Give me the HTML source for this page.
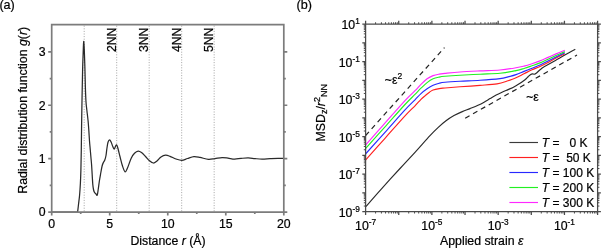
<!DOCTYPE html>
<html><head><meta charset="utf-8"><style>
html,body{margin:0;padding:0;background:#fff;}
svg{display:block;will-change:transform;}
text{font-family:"Liberation Sans", sans-serif;fill:#000;stroke:#000;stroke-width:0.22px;}
</style></head><body>
<svg width="602" height="248" viewBox="0 0 602 248">
<line x1="84.19" y1="25.70" x2="84.19" y2="212.10" stroke="#9a9a9a" stroke-width="0.9" stroke-dasharray="1,1.6"/>
<line x1="116.69" y1="25.70" x2="116.69" y2="212.10" stroke="#9a9a9a" stroke-width="0.9" stroke-dasharray="1,1.6"/>
<line x1="149.18" y1="25.70" x2="149.18" y2="212.10" stroke="#9a9a9a" stroke-width="0.9" stroke-dasharray="1,1.6"/>
<line x1="181.68" y1="25.70" x2="181.68" y2="212.10" stroke="#9a9a9a" stroke-width="0.9" stroke-dasharray="1,1.6"/>
<line x1="214.17" y1="25.70" x2="214.17" y2="212.10" stroke="#9a9a9a" stroke-width="0.9" stroke-dasharray="1,1.6"/>
<text transform="translate(115.69,27.5) rotate(-90)" text-anchor="end" font-size="12.3" fill="#111">2NN</text>
<text transform="translate(148.18,27.5) rotate(-90)" text-anchor="end" font-size="12.3" fill="#111">3NN</text>
<text transform="translate(180.68,27.5) rotate(-90)" text-anchor="end" font-size="12.3" fill="#111">4NN</text>
<text transform="translate(213.17,27.5) rotate(-90)" text-anchor="end" font-size="12.3" fill="#111">5NN</text>
<path d="M51.7,212.1 L77.6,212.1 C77.75,210.83 78.17,207.35 78.50,204.50 C78.83,201.65 79.28,198.58 79.60,195.00 C79.92,191.42 80.18,187.17 80.40,183.00 C80.62,178.83 80.75,175.50 80.90,170.00 C81.05,164.50 81.18,157.50 81.30,150.00 C81.42,142.50 81.47,134.17 81.60,125.00 C81.73,115.83 81.93,104.17 82.10,95.00 C82.27,85.83 82.42,77.17 82.60,70.00 C82.78,62.83 83.02,56.75 83.20,52.00 C83.38,47.25 83.52,41.83 83.70,41.50 C83.88,41.17 84.10,45.58 84.30,50.00 C84.50,54.42 84.72,61.67 84.90,68.00 C85.08,74.33 85.22,82.33 85.40,88.00 C85.58,93.67 85.75,98.25 86.00,102.00 C86.25,105.75 86.55,107.33 86.90,110.50 C87.25,113.67 87.78,117.75 88.10,121.00 C88.42,124.25 88.57,126.67 88.80,130.00 C89.03,133.33 89.27,137.83 89.50,141.00 C89.73,144.17 89.97,146.33 90.20,149.00 C90.43,151.67 90.67,154.33 90.90,157.00 C91.13,159.67 91.38,162.00 91.60,165.00 C91.82,168.00 92.00,171.75 92.20,175.00 C92.40,178.25 92.58,182.08 92.80,184.50 C93.02,186.92 93.23,188.20 93.50,189.50 C93.77,190.80 93.98,191.55 94.40,192.30 C94.82,193.05 95.53,193.52 96.00,194.00 C96.47,194.48 96.83,195.95 97.20,195.20 C97.57,194.45 97.85,191.78 98.20,189.50 C98.55,187.22 98.92,184.00 99.30,181.50 C99.68,179.00 100.03,177.08 100.50,174.50 C100.97,171.92 101.60,168.03 102.10,166.00 C102.60,163.97 103.05,163.30 103.50,162.30 C103.95,161.30 104.38,161.13 104.80,160.00 C105.22,158.87 105.65,157.42 106.00,155.50 C106.35,153.58 106.57,150.72 106.90,148.50 C107.23,146.28 107.55,143.65 108.00,142.20 C108.45,140.75 109.07,139.78 109.60,139.80 C110.13,139.82 110.67,141.18 111.20,142.30 C111.73,143.42 112.30,145.35 112.80,146.50 C113.30,147.65 113.75,149.23 114.20,149.20 C114.65,149.17 115.10,147.03 115.50,146.30 C115.90,145.57 116.25,144.63 116.60,144.80 C116.95,144.97 117.27,146.27 117.60,147.30 C117.93,148.33 118.18,149.38 118.60,151.00 C119.02,152.62 119.45,154.50 120.10,157.00 C120.75,159.50 121.67,163.53 122.50,166.00 C123.33,168.47 124.27,171.47 125.10,171.80 C125.93,172.13 126.48,170.27 127.50,168.00 C128.52,165.73 130.03,160.65 131.20,158.20 C132.37,155.75 133.33,154.48 134.50,153.30 C135.67,152.12 137.03,151.23 138.20,151.10 C139.37,150.97 140.32,151.65 141.50,152.50 C142.68,153.35 143.97,154.82 145.30,156.20 C146.63,157.58 148.17,159.67 149.50,160.80 C150.83,161.93 152.05,162.97 153.30,163.00 C154.55,163.03 155.72,162.00 157.00,161.00 C158.28,160.00 159.57,157.97 161.00,157.00 C162.43,156.03 164.10,155.32 165.60,155.20 C167.10,155.08 168.27,155.67 170.00,156.30 C171.73,156.93 174.03,158.32 176.00,159.00 C177.97,159.68 179.88,160.48 181.80,160.40 C183.72,160.32 185.48,159.13 187.50,158.50 C189.52,157.87 191.82,156.78 193.90,156.60 C195.98,156.42 197.58,156.93 200.00,157.40 C202.42,157.87 205.90,159.20 208.40,159.40 C210.90,159.60 212.72,158.90 215.00,158.60 C217.28,158.30 219.93,157.68 222.10,157.60 C224.27,157.52 225.93,157.85 228.00,158.10 C230.07,158.35 232.33,159.05 234.50,159.10 C236.67,159.15 238.72,158.60 241.00,158.40 C243.28,158.20 245.87,157.87 248.20,157.90 C250.53,157.93 252.70,158.40 255.00,158.60 C257.30,158.80 259.50,159.08 262.00,159.10 C264.50,159.12 267.33,158.82 270.00,158.70 C272.67,158.58 275.70,158.43 278.00,158.40 C280.30,158.37 282.83,158.48 283.80,158.50" fill="none" stroke="#2a2a2a" stroke-width="1.25" stroke-linejoin="round"/>
<path d="M51.7,24.7 V212.1 H283.8 V24.7 Z" fill="none" stroke="#7c7c7c" stroke-width="1.7"/>
<path d="M51.70,212.1v3.5M109.72,212.1v3.5M167.75,212.1v3.5M225.78,212.1v3.5M283.80,212.1v3.5M80.71,212.1v2M138.74,212.1v2M196.76,212.1v2M254.79,212.1v2M51.7,212.10h-3.5M283.8,212.10h3.5M51.7,158.67h-3.5M283.8,158.67h3.5M51.7,105.24h-3.5M283.8,105.24h3.5M51.7,51.81h-3.5M283.8,51.81h3.5M51.7,185.38h-2M283.8,185.38h2M51.7,131.95h-2M283.8,131.95h2M51.7,78.53h-2M283.8,78.53h2" stroke="#7c7c7c" stroke-width="1.7" fill="none"/>
<text x="51.70" y="228" text-anchor="middle" font-size="12.3">0</text>
<text x="109.72" y="228" text-anchor="middle" font-size="12.3">5</text>
<text x="167.75" y="228" text-anchor="middle" font-size="12.3">10</text>
<text x="225.78" y="228" text-anchor="middle" font-size="12.3">15</text>
<text x="283.80" y="228" text-anchor="middle" font-size="12.3">20</text>
<text x="45.5" y="216.40" text-anchor="end" font-size="12.3">0</text>
<text x="45.5" y="162.97" text-anchor="end" font-size="12.3">1</text>
<text x="45.5" y="109.54" text-anchor="end" font-size="12.3">2</text>
<text x="45.5" y="56.11" text-anchor="end" font-size="12.3">3</text>
<text x="168" y="244.6" text-anchor="middle" font-size="12.3">Distance <tspan font-style="italic">r</tspan> (Å)</text>
<text transform="translate(27.3,110.3) rotate(-90)" text-anchor="middle" font-size="12.3">Radial distribution function <tspan font-style="italic">g</tspan>(<tspan font-style="italic">r</tspan>)</text>
<text x="-0.6" y="8.8" font-size="12.6">(a)</text>
<path d="M365.80,206.60 C368.27,203.80 374.90,196.15 380.60,189.80 C386.30,183.45 394.27,174.75 400.00,168.50 C405.73,162.25 410.00,157.78 415.00,152.30 C420.00,146.82 426.17,139.72 430.00,135.60 C433.83,131.48 435.33,130.07 438.00,127.60 C440.67,125.13 443.33,122.80 446.00,120.80 C448.67,118.80 451.28,117.13 454.00,115.60 C456.72,114.07 459.63,112.77 462.30,111.60 C464.97,110.43 467.38,109.65 470.00,108.60 C472.62,107.55 475.65,106.37 478.00,105.30 C480.35,104.23 482.08,103.32 484.10,102.20 C486.12,101.08 488.08,99.80 490.10,98.60 C492.12,97.40 494.22,96.07 496.20,95.00 C498.18,93.93 500.03,93.10 502.00,92.20 C503.97,91.30 506.17,90.40 508.00,89.60 C509.83,88.80 511.33,88.23 513.00,87.40 C514.67,86.57 516.05,85.83 518.00,84.60 C519.95,83.37 522.98,81.35 524.70,80.00 C526.42,78.65 527.30,77.42 528.30,76.50 C529.30,75.58 530.00,74.93 530.70,74.50 C531.40,74.07 531.90,73.95 532.50,73.90 C533.10,73.85 533.68,74.30 534.30,74.20 C534.92,74.10 535.38,73.92 536.20,73.30 C537.02,72.68 538.20,71.38 539.20,70.50 C540.20,69.62 541.23,68.70 542.20,68.00 C543.17,67.30 542.87,67.52 545.00,66.30 C547.13,65.08 551.70,62.58 555.00,60.70 C558.30,58.82 561.42,56.92 564.80,55.00 C568.18,53.08 573.55,50.17 575.30,49.20" fill="none" stroke="#2a2a2a" stroke-width="1.15" stroke-linejoin="round"/>
<path d="M365.50,160.10 C368.75,156.47 378.42,145.67 385.00,138.30 C391.58,130.93 400.00,121.32 405.00,115.90 C410.00,110.48 412.33,108.57 415.00,105.80 C417.67,103.03 419.28,101.00 421.00,99.30 C422.72,97.60 423.88,96.78 425.30,95.60 C426.72,94.42 428.20,93.13 429.50,92.20 C430.80,91.27 431.48,90.60 433.10,90.00 C434.72,89.40 437.22,88.93 439.20,88.60 C441.18,88.27 441.53,88.30 445.00,88.00 C448.47,87.70 454.17,87.23 460.00,86.80 C465.83,86.37 473.83,85.88 480.00,85.40 C486.17,84.92 492.33,84.67 497.00,83.90 C501.67,83.13 504.83,81.82 508.00,80.80 C511.17,79.78 513.33,78.97 516.00,77.80 C518.67,76.63 521.33,75.13 524.00,73.80 C526.67,72.47 529.33,71.03 532.00,69.80 C534.67,68.57 537.33,67.63 540.00,66.40 C542.67,65.17 545.33,63.80 548.00,62.40 C550.67,61.00 553.20,59.43 556.00,58.00 C558.80,56.57 563.33,54.50 564.80,53.80" fill="none" stroke="#ff2020" stroke-width="1.15" stroke-linejoin="round"/>
<path d="M365.50,154.00 C368.75,150.38 378.42,139.65 385.00,132.30 C391.58,124.95 400.00,115.32 405.00,109.90 C410.00,104.48 412.33,102.52 415.00,99.80 C417.67,97.08 418.98,95.43 421.00,93.60 C423.02,91.77 425.08,90.18 427.10,88.80 C429.12,87.42 431.08,86.23 433.10,85.30 C435.12,84.37 437.22,83.72 439.20,83.20 C441.18,82.68 441.53,82.53 445.00,82.20 C448.47,81.87 454.17,81.52 460.00,81.20 C465.83,80.88 473.33,80.73 480.00,80.30 C486.67,79.87 495.33,79.17 500.00,78.60 C504.67,78.03 505.33,77.57 508.00,76.90 C510.67,76.23 513.33,75.52 516.00,74.60 C518.67,73.68 521.33,72.47 524.00,71.40 C526.67,70.33 529.33,69.28 532.00,68.20 C534.67,67.12 537.33,66.10 540.00,64.90 C542.67,63.70 545.33,62.32 548.00,61.00 C550.67,59.68 553.20,58.38 556.00,57.00 C558.80,55.62 563.33,53.42 564.80,52.70" fill="none" stroke="#2828ff" stroke-width="1.15" stroke-linejoin="round"/>
<path d="M365.50,148.60 C368.75,144.98 378.42,134.25 385.00,126.90 C391.58,119.55 400.00,109.92 405.00,104.50 C410.00,99.08 412.33,97.12 415.00,94.40 C417.67,91.68 418.98,90.17 421.00,88.20 C423.02,86.23 425.08,84.17 427.10,82.60 C429.12,81.03 431.08,79.72 433.10,78.80 C435.12,77.88 437.22,77.52 439.20,77.10 C441.18,76.68 441.53,76.62 445.00,76.30 C448.47,75.98 454.17,75.55 460.00,75.20 C465.83,74.85 473.33,74.52 480.00,74.20 C486.67,73.88 494.00,73.90 500.00,73.30 C506.00,72.70 512.00,71.40 516.00,70.60 C520.00,69.80 521.33,69.30 524.00,68.50 C526.67,67.70 529.33,66.73 532.00,65.80 C534.67,64.87 537.33,64.00 540.00,62.90 C542.67,61.80 545.33,60.43 548.00,59.20 C550.67,57.97 553.20,56.77 556.00,55.50 C558.80,54.23 563.33,52.25 564.80,51.60" fill="none" stroke="#22f022" stroke-width="1.15" stroke-linejoin="round"/>
<path d="M365.50,145.10 C368.42,141.80 376.42,132.72 383.00,125.30 C389.58,117.88 399.67,106.37 405.00,100.60 C410.33,94.83 412.33,93.42 415.00,90.70 C417.67,87.98 418.98,86.28 421.00,84.30 C423.02,82.32 425.08,80.25 427.10,78.80 C429.12,77.35 431.08,76.38 433.10,75.60 C435.12,74.82 437.22,74.47 439.20,74.10 C441.18,73.73 441.53,73.75 445.00,73.40 C448.47,73.05 454.17,72.42 460.00,72.00 C465.83,71.58 473.33,71.23 480.00,70.90 C486.67,70.57 494.00,70.52 500.00,70.00 C506.00,69.48 512.00,68.45 516.00,67.80 C520.00,67.15 521.33,66.78 524.00,66.10 C526.67,65.42 529.33,64.57 532.00,63.70 C534.67,62.83 537.33,61.95 540.00,60.90 C542.67,59.85 545.33,58.57 548.00,57.40 C550.67,56.23 553.20,55.10 556.00,53.90 C558.80,52.70 563.33,50.82 564.80,50.20" fill="none" stroke="#ff28ff" stroke-width="1.15" stroke-linejoin="round"/>
<line x1="365.6" y1="135.5" x2="444.5" y2="47.6" stroke="#222" stroke-width="1.2" stroke-dasharray="5,4"/>
<line x1="465.2" y1="118.2" x2="577" y2="55" stroke="#222" stroke-width="1.2" stroke-dasharray="5,4"/>
<text x="384.8" y="84.2" font-size="12.3">~ε<tspan font-size="8.5" dy="-5">2</tspan></text>
<text x="526.2" y="100.5" font-size="12.3">~ε</text>
<path d="M365.6,24.06 V211.7 H597.6 V24.06 Z" fill="none" stroke="#4a4a4a" stroke-width="1.25"/>
<path d="M365.60,211.7v3.3M365.60,24.06v-3.3M398.74,211.7v3.3M398.74,24.06v-3.3M431.89,211.7v3.3M431.89,24.06v-3.3M465.03,211.7v3.3M465.03,24.06v-3.3M498.17,211.7v3.3M498.17,24.06v-3.3M531.31,211.7v3.3M531.31,24.06v-3.3M564.46,211.7v3.3M564.46,24.06v-3.3M597.60,211.7v3.3M597.60,24.06v-3.3M365.6,211.70h-3.3M597.6,211.70h3.3M365.6,192.94h-3.3M597.6,192.94h3.3M365.6,174.17h-3.3M597.6,174.17h3.3M365.6,155.41h-3.3M597.6,155.41h3.3M365.6,136.64h-3.3M597.6,136.64h3.3M365.6,117.88h-3.3M597.6,117.88h3.3M365.6,99.12h-3.3M597.6,99.12h3.3M365.6,80.35h-3.3M597.6,80.35h3.3M365.6,61.59h-3.3M597.6,61.59h3.3M365.6,42.82h-3.3M597.6,42.82h3.3M365.6,24.06h-3.3M597.6,24.06h3.3" stroke="#4a4a4a" stroke-width="1.25" fill="none"/>
<path d="M375.58,211.7v1.8M375.58,24.06v-1.8M381.41,211.7v1.8M381.41,24.06v-1.8M385.55,211.7v1.8M385.55,24.06v-1.8M388.77,211.7v1.8M388.77,24.06v-1.8M391.39,211.7v1.8M391.39,24.06v-1.8M393.61,211.7v1.8M393.61,24.06v-1.8M395.53,211.7v1.8M395.53,24.06v-1.8M397.23,211.7v1.8M397.23,24.06v-1.8M408.72,211.7v1.8M408.72,24.06v-1.8M414.56,211.7v1.8M414.56,24.06v-1.8M418.70,211.7v1.8M418.70,24.06v-1.8M421.91,211.7v1.8M421.91,24.06v-1.8M424.53,211.7v1.8M424.53,24.06v-1.8M426.75,211.7v1.8M426.75,24.06v-1.8M428.67,211.7v1.8M428.67,24.06v-1.8M430.37,211.7v1.8M430.37,24.06v-1.8M441.86,211.7v1.8M441.86,24.06v-1.8M447.70,211.7v1.8M447.70,24.06v-1.8M451.84,211.7v1.8M451.84,24.06v-1.8M455.05,211.7v1.8M455.05,24.06v-1.8M457.68,211.7v1.8M457.68,24.06v-1.8M459.89,211.7v1.8M459.89,24.06v-1.8M461.82,211.7v1.8M461.82,24.06v-1.8M463.51,211.7v1.8M463.51,24.06v-1.8M475.01,211.7v1.8M475.01,24.06v-1.8M480.84,211.7v1.8M480.84,24.06v-1.8M484.98,211.7v1.8M484.98,24.06v-1.8M488.19,211.7v1.8M488.19,24.06v-1.8M490.82,211.7v1.8M490.82,24.06v-1.8M493.04,211.7v1.8M493.04,24.06v-1.8M494.96,211.7v1.8M494.96,24.06v-1.8M496.65,211.7v1.8M496.65,24.06v-1.8M508.15,211.7v1.8M508.15,24.06v-1.8M513.98,211.7v1.8M513.98,24.06v-1.8M518.13,211.7v1.8M518.13,24.06v-1.8M521.34,211.7v1.8M521.34,24.06v-1.8M523.96,211.7v1.8M523.96,24.06v-1.8M526.18,211.7v1.8M526.18,24.06v-1.8M528.10,211.7v1.8M528.10,24.06v-1.8M529.80,211.7v1.8M529.80,24.06v-1.8M541.29,211.7v1.8M541.29,24.06v-1.8M547.13,211.7v1.8M547.13,24.06v-1.8M551.27,211.7v1.8M551.27,24.06v-1.8M554.48,211.7v1.8M554.48,24.06v-1.8M557.10,211.7v1.8M557.10,24.06v-1.8M559.32,211.7v1.8M559.32,24.06v-1.8M561.25,211.7v1.8M561.25,24.06v-1.8M562.94,211.7v1.8M562.94,24.06v-1.8M574.43,211.7v1.8M574.43,24.06v-1.8M580.27,211.7v1.8M580.27,24.06v-1.8M584.41,211.7v1.8M584.41,24.06v-1.8M587.62,211.7v1.8M587.62,24.06v-1.8M590.25,211.7v1.8M590.25,24.06v-1.8M592.47,211.7v1.8M592.47,24.06v-1.8M594.39,211.7v1.8M594.39,24.06v-1.8M596.08,211.7v1.8M596.08,24.06v-1.8M365.6,206.05h-1.8M597.6,206.05h1.8M365.6,202.75h-1.8M597.6,202.75h1.8M365.6,200.40h-1.8M597.6,200.40h1.8M365.6,198.58h-1.8M597.6,198.58h1.8M365.6,197.10h-1.8M597.6,197.10h1.8M365.6,195.84h-1.8M597.6,195.84h1.8M365.6,194.75h-1.8M597.6,194.75h1.8M365.6,193.79h-1.8M597.6,193.79h1.8M365.6,187.29h-1.8M597.6,187.29h1.8M365.6,183.98h-1.8M597.6,183.98h1.8M365.6,181.64h-1.8M597.6,181.64h1.8M365.6,179.82h-1.8M597.6,179.82h1.8M365.6,178.33h-1.8M597.6,178.33h1.8M365.6,177.08h-1.8M597.6,177.08h1.8M365.6,175.99h-1.8M597.6,175.99h1.8M365.6,175.03h-1.8M597.6,175.03h1.8M365.6,168.52h-1.8M597.6,168.52h1.8M365.6,165.22h-1.8M597.6,165.22h1.8M365.6,162.87h-1.8M597.6,162.87h1.8M365.6,161.06h-1.8M597.6,161.06h1.8M365.6,159.57h-1.8M597.6,159.57h1.8M365.6,158.31h-1.8M597.6,158.31h1.8M365.6,157.23h-1.8M597.6,157.23h1.8M365.6,156.27h-1.8M597.6,156.27h1.8M365.6,149.76h-1.8M597.6,149.76h1.8M365.6,146.46h-1.8M597.6,146.46h1.8M365.6,144.11h-1.8M597.6,144.11h1.8M365.6,142.29h-1.8M597.6,142.29h1.8M365.6,140.81h-1.8M597.6,140.81h1.8M365.6,139.55h-1.8M597.6,139.55h1.8M365.6,138.46h-1.8M597.6,138.46h1.8M365.6,137.50h-1.8M597.6,137.50h1.8M365.6,131.00h-1.8M597.6,131.00h1.8M365.6,127.69h-1.8M597.6,127.69h1.8M365.6,125.35h-1.8M597.6,125.35h1.8M365.6,123.53h-1.8M597.6,123.53h1.8M365.6,122.04h-1.8M597.6,122.04h1.8M365.6,120.79h-1.8M597.6,120.79h1.8M365.6,119.70h-1.8M597.6,119.70h1.8M365.6,118.74h-1.8M597.6,118.74h1.8M365.6,112.23h-1.8M597.6,112.23h1.8M365.6,108.93h-1.8M597.6,108.93h1.8M365.6,106.58h-1.8M597.6,106.58h1.8M365.6,104.76h-1.8M597.6,104.76h1.8M365.6,103.28h-1.8M597.6,103.28h1.8M365.6,102.02h-1.8M597.6,102.02h1.8M365.6,100.93h-1.8M597.6,100.93h1.8M365.6,99.97h-1.8M597.6,99.97h1.8M365.6,93.47h-1.8M597.6,93.47h1.8M365.6,90.16h-1.8M597.6,90.16h1.8M365.6,87.82h-1.8M597.6,87.82h1.8M365.6,86.00h-1.8M597.6,86.00h1.8M365.6,84.51h-1.8M597.6,84.51h1.8M365.6,83.26h-1.8M597.6,83.26h1.8M365.6,82.17h-1.8M597.6,82.17h1.8M365.6,81.21h-1.8M597.6,81.21h1.8M365.6,74.70h-1.8M597.6,74.70h1.8M365.6,71.40h-1.8M597.6,71.40h1.8M365.6,69.05h-1.8M597.6,69.05h1.8M365.6,67.24h-1.8M597.6,67.24h1.8M365.6,65.75h-1.8M597.6,65.75h1.8M365.6,64.49h-1.8M597.6,64.49h1.8M365.6,63.41h-1.8M597.6,63.41h1.8M365.6,62.45h-1.8M597.6,62.45h1.8M365.6,55.94h-1.8M597.6,55.94h1.8M365.6,52.64h-1.8M597.6,52.64h1.8M365.6,50.29h-1.8M597.6,50.29h1.8M365.6,48.47h-1.8M597.6,48.47h1.8M365.6,46.99h-1.8M597.6,46.99h1.8M365.6,45.73h-1.8M597.6,45.73h1.8M365.6,44.64h-1.8M597.6,44.64h1.8M365.6,43.68h-1.8M597.6,43.68h1.8M365.6,37.18h-1.8M597.6,37.18h1.8M365.6,33.87h-1.8M597.6,33.87h1.8M365.6,31.53h-1.8M597.6,31.53h1.8M365.6,29.71h-1.8M597.6,29.71h1.8M365.6,28.22h-1.8M597.6,28.22h1.8M365.6,26.97h-1.8M597.6,26.97h1.8M365.6,25.88h-1.8M597.6,25.88h1.8M365.6,24.92h-1.8M597.6,24.92h1.8" stroke="#4a4a4a" stroke-width="1" fill="none"/>
<text x="365.60" y="230.0" text-anchor="middle" font-size="12.3">10<tspan font-size="8.3" dy="-5">-7</tspan></text>
<text x="431.89" y="230.0" text-anchor="middle" font-size="12.3">10<tspan font-size="8.3" dy="-5">-5</tspan></text>
<text x="498.17" y="230.0" text-anchor="middle" font-size="12.3">10<tspan font-size="8.3" dy="-5">-3</tspan></text>
<text x="564.46" y="230.0" text-anchor="middle" font-size="12.3">10<tspan font-size="8.3" dy="-5">-1</tspan></text>
<text x="359.8" y="29.06" text-anchor="end" font-size="12.3">10<tspan font-size="8.3" dy="-5">1</tspan></text>
<text x="359.8" y="66.59" text-anchor="end" font-size="12.3">10<tspan font-size="8.3" dy="-5">-1</tspan></text>
<text x="359.8" y="104.12" text-anchor="end" font-size="12.3">10<tspan font-size="8.3" dy="-5">-3</tspan></text>
<text x="359.8" y="141.64" text-anchor="end" font-size="12.3">10<tspan font-size="8.3" dy="-5">-5</tspan></text>
<text x="359.8" y="179.17" text-anchor="end" font-size="12.3">10<tspan font-size="8.3" dy="-5">-7</tspan></text>
<text x="359.8" y="216.70" text-anchor="end" font-size="12.3">10<tspan font-size="8.3" dy="-5">-9</tspan></text>
<text x="481.7" y="244.9" text-anchor="middle" font-size="12.3">Applied strain <tspan font-style="italic">ε</tspan></text>
<text transform="translate(325.0,141.4) rotate(-90)" font-size="12.3">MSD<tspan font-size="9" dy="2">z</tspan><tspan dy="-2">/</tspan><tspan font-style="italic">r</tspan><tspan font-size="9" dy="-5.3">2</tspan><tspan font-size="9" dy="7.7">NN</tspan></text>
<text x="296.6" y="8.6" font-size="12.6">(b)</text>
<line x1="509.4" y1="142.50" x2="538" y2="142.50" stroke="#3a3a3a" stroke-width="1.15"/>
<text x="541.8" y="146.80" font-size="12.0" xml:space="preserve"><tspan font-style="italic">T</tspan> =   0 K</text>
<line x1="509.4" y1="157.50" x2="538" y2="157.50" stroke="#ff2020" stroke-width="1.15"/>
<text x="541.8" y="161.80" font-size="12.0" xml:space="preserve"><tspan font-style="italic">T</tspan> =  50 K</text>
<line x1="509.4" y1="172.50" x2="538" y2="172.50" stroke="#2828ff" stroke-width="1.15"/>
<text x="541.8" y="176.80" font-size="12.0" xml:space="preserve"><tspan font-style="italic">T</tspan> = 100 K</text>
<line x1="509.4" y1="187.50" x2="538" y2="187.50" stroke="#22f022" stroke-width="1.15"/>
<text x="541.8" y="191.80" font-size="12.0" xml:space="preserve"><tspan font-style="italic">T</tspan> = 200 K</text>
<line x1="509.4" y1="202.50" x2="538" y2="202.50" stroke="#ff28ff" stroke-width="1.15"/>
<text x="541.8" y="206.80" font-size="12.0" xml:space="preserve"><tspan font-style="italic">T</tspan> = 300 K</text>
</svg>
</body></html>
